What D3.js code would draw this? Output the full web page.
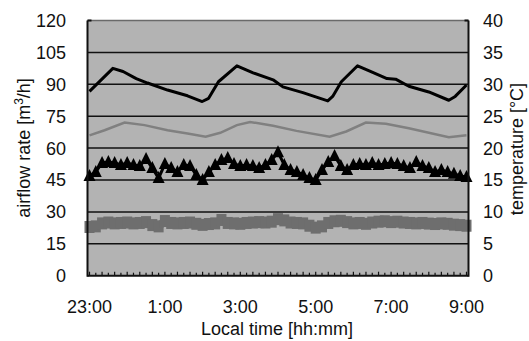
<!DOCTYPE html>
<html>
<head>
<meta charset="utf-8">
<script src="https://cdn.jsdelivr.net/npm/d3@7"></script>
<style>
  body { margin: 0; background: #fff; }
  text { font-family: "Liberation Sans", Arial, sans-serif; fill: #111; }
</style>
</head>
<body>
<div id="chart"></div>
<script>
// x values are hours after 23:00
const timeLabels = ['23:00', '1:00', '3:00', '5:00', '7:00', '9:00'];
const leftTicks = [0, 15, 30, 45, 60, 75, 90, 105, 120];
const rightTicks = [0, 5, 10, 15, 20, 25, 30, 35, 40];

// black temperature line [degC]
const tempAHours = [0, 0.62, 0.89, 1.24, 1.54, 2.07, 2.6, 2.99, 3.16, 3.42, 3.91, 4.34, 4.87, 5.13,
  5.66, 6.32, 6.45, 6.68, 7.11, 7.42, 7.89, 8.12, 8.47, 9.0, 9.53, 9.7, 10];
const tempA = [28.9, 32.5, 32.0, 30.9, 30.2, 29.1, 28.2, 27.3, 27.8, 30.4, 32.9, 31.8, 30.7, 29.6,
  28.7, 27.4, 28.1, 30.4, 32.9, 32.1, 30.9, 30.8, 29.7, 28.8, 27.5, 28.1, 29.9];

// gray temperature line [degC]
const tempBHours = [0, 0.4, 0.93, 1.46, 2.07, 2.6, 3.08, 3.47, 3.91, 4.26, 4.87, 5.49, 6.37, 6.81,
  7.33, 7.86, 8.47, 9.53, 10];
const tempB = [22.0, 22.8, 24.0, 23.6, 22.8, 22.3, 21.8, 22.4, 23.6, 24.1, 23.5, 22.7, 21.8, 22.6,
  24.0, 23.8, 23.1, 21.7, 22.0];

// airflow rates [m3/h], one value every 10 minutes
const flowA = [46.9, 48.8, 53.0, 53.5, 53.0, 52.1, 53.0, 52.1, 51.6, 54.9, 50.6, 45.9, 52.5, 50.6,
  48.8, 52.1, 51.6, 47.4, 45.0, 48.8, 52.1, 54.4, 55.3, 52.5, 51.6, 52.1, 51.6, 50.6, 52.1, 54.4,
  58.0, 52.1, 49.7, 48.8, 47.4, 45.9, 45.0, 49.7, 53.5, 56.3, 51.6, 49.7, 52.1, 52.5, 52.1, 53.0,
  52.1, 52.5, 53.0, 52.5, 51.6, 50.6, 53.5, 51.6, 50.6, 48.8, 49.7, 48.8, 47.9, 46.9, 46.4];
const flowB = [22.9, 23.2, 24.6, 25.0, 24.6, 24.8, 25.0, 24.6, 24.8, 25.2, 23.8, 23.2, 25.7, 24.8,
  24.6, 24.8, 25.0, 24.4, 23.9, 24.3, 24.6, 26.2, 24.8, 24.6, 24.4, 24.8, 25.0, 25.2, 25.0, 25.4,
  26.6, 26.0, 25.0, 24.8, 24.6, 23.5, 22.6, 23.2, 24.8, 25.6, 25.8, 25.2, 24.6, 24.8, 24.4, 25.0,
  25.4, 25.6, 25.2, 25.4, 25.0, 24.8, 24.6, 24.8, 24.5, 24.3, 24.6, 24.4, 24.0, 23.8, 23.5];

const W = 529, H = 341;
const plot = { left: 87.5, right: 468.5, top: 20.5, bottom: 275.7 };

const svg = d3.select('#chart').append('svg')
  .attr('width', W).attr('height', H);

const x = d3.scaleLinear().domain([0, 10]).range([89.5, 466.5]);
const yL = d3.scaleLinear().domain([0, 120]).range([plot.bottom, plot.top]);
const yR = d3.scaleLinear().domain([0, 40]).range([plot.bottom, plot.top]);
const flowHour = (d, i) => i / 6;

// plot background
svg.append('rect')
  .attr('x', plot.left).attr('y', plot.top)
  .attr('width', plot.right - plot.left).attr('height', plot.bottom - plot.top)
  .attr('fill', '#b3b3b3');

// gridlines
svg.append('g').selectAll('line')
  .data(leftTicks.filter(d => d > 0 && d < 120))
  .enter().append('line')
  .attr('x1', plot.left).attr('x2', plot.right)
  .attr('y1', d => yL(d)).attr('y2', d => yL(d))
  .attr('stroke', '#111').attr('stroke-width', 1.5);
svg.append('line')
  .attr('x1', plot.left).attr('x2', plot.right)
  .attr('y1', plot.top).attr('y2', plot.top)
  .attr('stroke', '#6a6a6a').attr('stroke-width', 1.5);

// gray square series
svg.append('path')
  .datum(flowB)
  .attr('fill', 'none').attr('stroke', '#6e6e6e').attr('stroke-width', 8)
  .attr('d', d3.line().x((d, i) => x(flowHour(d, i))).y(d => yL(d)));
svg.append('g').selectAll('rect')
  .data(flowB)
  .enter().append('rect')
  .attr('x', (d, i) => x(flowHour(d, i)) - 5)
  .attr('y', d => yL(d) - 6)
  .attr('width', 10).attr('height', 12)
  .attr('fill', '#6e6e6e');

// gray temperature line
svg.append('path')
  .datum(tempB)
  .attr('fill', 'none').attr('stroke', '#808080').attr('stroke-width', 2.5)
  .attr('d', d3.line().x((d, i) => x(tempBHours[i])).y(d => yR(d)));

// triangle series
svg.append('path')
  .datum(flowA)
  .attr('fill', 'none').attr('stroke', '#000').attr('stroke-width', 3)
  .attr('d', d3.line().x((d, i) => x(flowHour(d, i))).y(d => yL(d)));
svg.append('g').selectAll('path')
  .data(flowA)
  .enter().append('path')
  .attr('transform', (d, i) => 'translate(' + x(flowHour(d, i)) + ',' + yL(d) + ')')
  .attr('d', 'M0,-7L6,5L-6,5Z')
  .attr('fill', '#000');

// black temperature line
svg.append('path')
  .datum(tempA)
  .attr('fill', 'none').attr('stroke', '#000').attr('stroke-width', 3)
  .attr('stroke-linejoin', 'round')
  .attr('d', d3.line().x((d, i) => x(tempAHours[i])).y(d => yR(d)));

// minor ticks along the time axis
svg.append('g').selectAll('line')
  .data(d3.range(0, 61))
  .enter().append('line')
  .attr('x1', d => x(d / 6)).attr('x2', d => x(d / 6))
  .attr('y1', plot.bottom).attr('y2', d => plot.bottom - (d % 2 ? 3 : 4))
  .attr('stroke', '#111').attr('stroke-width', 1.2);

// frame
const frame = svg.append('g').attr('stroke', '#111').attr('stroke-width', 2);
frame.append('line').attr('x1', plot.left).attr('x2', plot.left).attr('y1', plot.top).attr('y2', plot.bottom + 1);
frame.append('line').attr('x1', plot.right).attr('x2', plot.right).attr('y1', plot.top).attr('y2', plot.bottom + 1);
frame.append('line').attr('x1', plot.left).attr('x2', plot.right).attr('y1', plot.bottom).attr('y2', plot.bottom);
frame.append('line').attr('x1', plot.left).attr('x2', plot.left + 4).attr('y1', plot.top).attr('y2', plot.top);
frame.append('line').attr('x1', plot.right - 4).attr('x2', plot.right).attr('y1', plot.top).attr('y2', plot.top);

// tick labels
svg.append('g').selectAll('text')
  .data(leftTicks)
  .enter().append('text')
  .attr('x', 66).attr('y', d => yL(d)).attr('dy', '0.36em')
  .attr('text-anchor', 'end').attr('font-size', 18)
  .text(d => d);
svg.append('g').selectAll('text')
  .data(rightTicks)
  .enter().append('text')
  .attr('x', 483).attr('y', d => yR(d)).attr('dy', '0.36em')
  .attr('text-anchor', 'start').attr('font-size', 18)
  .text(d => d);
svg.append('g').selectAll('text')
  .data(timeLabels)
  .enter().append('text')
  .attr('x', (d, i) => x(i * 2)).attr('y', 313)
  .attr('text-anchor', 'middle').attr('font-size', 18)
  .text(d => d);

// axis titles
svg.append('text')
  .attr('x', 277).attr('y', 335)
  .attr('text-anchor', 'middle').attr('font-size', 18)
  .text('Local time [hh:mm]');

const leftTitle = svg.append('text')
  .attr('transform', 'translate(30,148) rotate(-90)')
  .attr('text-anchor', 'middle').attr('font-size', 18);
leftTitle.append('tspan').text('airflow rate [m');
leftTitle.append('tspan').attr('font-size', 12).attr('dy', -7).text('3');
leftTitle.append('tspan').attr('dy', 7).text('/h]');

svg.append('text')
  .attr('transform', 'translate(523,149) rotate(-90)')
  .attr('text-anchor', 'middle').attr('font-size', 18)
  .text('temperature [°C]');
</script>
</body>
</html>
